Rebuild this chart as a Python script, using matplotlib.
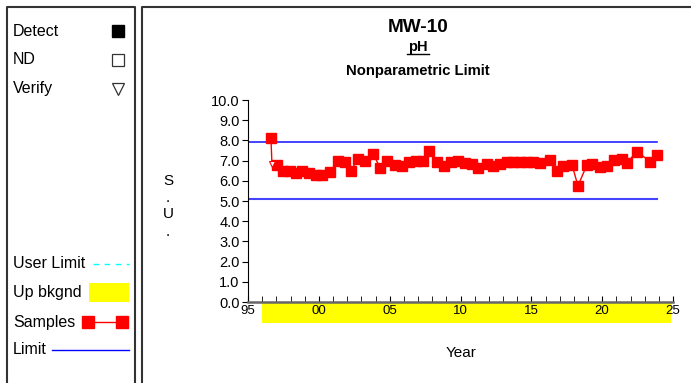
import matplotlib.pyplot as plt
from matplotlib.patches import Rectangle
import matplotlib.transforms as mtransforms

plt.rcParams['font.family'] = ['Liberation Sans', 'DejaVu Sans']

# ------------------------------------------
# DATOS
# ------------------------------------------
years = [1996.62, 1997.05, 1997.47, 1997.96, 1998.39, 1998.81, 1999.31, 1999.80,
         2000.22, 2000.79, 2001.35, 2001.85, 2002.27, 2002.76, 2003.26, 2003.82,
         2004.32, 2004.81, 2005.38, 2005.87, 2006.36, 2006.86, 2007.35, 2007.78,
         2008.34, 2008.84, 2009.33, 2009.82, 2010.32, 2010.81, 2011.24, 2011.87,
         2012.29, 2012.79, 2013.28, 2013.71, 2014.20, 2014.69, 2015.12, 2015.61,
         2016.32, 2016.81, 2017.24, 2017.87, 2018.29, 2018.93, 2019.28, 2019.85,
         2020.34, 2020.84, 2021.40, 2021.75, 2022.46, 2023.38, 2023.87]
ph = [8.1, 6.8, 6.5, 6.5, 6.4, 6.5, 6.4, 6.3,
      6.3, 6.45, 7.0, 6.95, 6.5, 7.1, 7.0, 7.35,
      6.65, 7.0, 6.8, 6.75, 6.95, 7.0, 7.0, 7.5,
      6.95, 6.75, 6.95, 7.0, 6.9, 6.85, 6.65, 6.85,
      6.75, 6.85, 6.95, 6.95, 6.95, 6.95, 6.95, 6.9,
      7.05, 6.5, 6.75, 6.8, 5.75, 6.8, 6.85, 6.7,
      6.75, 7.05, 7.1, 6.9, 7.45, 6.95, 7.3]

verify_year = [1996.69]
verify_ph = [6.85]

upper_limit = 7.9
lower_limit = 5.1
bkgnd_start = 1996.0
bkgnd_end = 2024.85

x_ticks = [1995, 2000, 2005, 2010, 2015, 2020, 2025]
x_labels = ['95', '00', '05', '10', '15', '20', '25']
y_ticks = [0, 1, 2, 3, 4, 5, 6, 7, 8, 9, 10]

W, H = 691, 383
fig = plt.figure(figsize=(W / 100, H / 100), dpi=100)

# ------------------------------------------
# PANELES Y LEYENDA (coordenadas en pixeles)
# ------------------------------------------
bg = fig.add_axes([0, 0, 1, 1])
bg.set_xlim(0, W)
bg.set_ylim(H, 0)
bg.axis('off')

border = '#333333'
bg.plot([7, 7, 135, 135], [H + 5, 7, 7, H + 5], color=border, lw=1.5)
bg.plot([142, 142, W + 5], [H + 5, 7, 7], color=border, lw=1.5)

fs = 11.5
bg.text(13, 31, 'Detect', fontsize=fs, va='center')
bg.plot(118, 31, marker='s', ms=8.5, color='black', mec='black')
bg.text(13, 60, 'ND', fontsize=fs, va='center')
bg.plot(118, 60, marker='s', ms=8.5, mfc='white', mec='#333333', mew=0.9)
bg.text(13, 89, 'Verify', fontsize=fs, va='center')
bg.plot(118, 89, marker='v', ms=9, mfc='white', mec='#333333', mew=0.9)

bg.text(13, 264, 'User Limit', fontsize=fs, va='center')
bg.plot([93, 129], [264, 264], color='cyan', lw=1, ls=(0, (4, 4)))
bg.text(13, 293, 'Up bkgnd', fontsize=fs, va='center')
bg.add_patch(Rectangle((89, 283), 40, 19, color='yellow', lw=0))
bg.text(13, 322, 'Samples', fontsize=fs, va='center')
bg.plot([88, 122], [322, 322], color='red', lw=1, marker='s', ms=9, mec='red')
bg.text(13, 350, 'Limit', fontsize=fs, va='center')
bg.plot([52, 129], [350, 350], color='blue', lw=1)

# titulos
bg.text(418, 27, 'MW-10', fontsize=13.7, fontweight='bold', ha='center', va='center')
bg.text(418, 47, 'pH', fontsize=10.5, fontweight='bold', ha='center', va='center')
bg.plot([407, 429], [54, 54], color='black', lw=1)
bg.text(418, 71, 'Nonparametric Limit', fontsize=10.7, fontweight='bold',
        ha='center', va='center')
bg.text(461, 353, 'Year', fontsize=11, ha='center', va='center')
for yy, ch in zip([181, 198, 214, 232], ['S', '.', 'U', '.']):
    bg.text(168, yy, ch, fontsize=11, ha='center', va='center')

# ------------------------------------------
# GRAFICO PRINCIPAL
# ------------------------------------------
ax = fig.add_axes([248 / W, 1 - 302 / H, (673 - 248) / W, (302 - 100) / H])
ax.set_xlim(1995, 2025)
ax.set_ylim(0, 10)
ax.patch.set_alpha(0)

ax.spines['top'].set_visible(False)
ax.spines['right'].set_visible(False)
ax.spines['left'].set_color('black')
ax.spines['bottom'].set_color('#666666')
ax.spines['bottom'].set_linewidth(1.8)

# banda de fondo (debajo del eje)
trans = mtransforms.blended_transform_factory(ax.transData, ax.transAxes)
ax.add_patch(Rectangle((bkgnd_start, -0.105), bkgnd_end - bkgnd_start, 0.1,
                       transform=trans, color='yellow', lw=0, clip_on=False, zorder=0))

# limites
ax.plot([1995, years[-1]], [upper_limit, upper_limit], color='#2222ff', lw=1.2)
ax.plot([1995, years[-1]], [lower_limit, lower_limit], color='#4444ff', lw=1.5)

# muestras
line_x = [years[0]] + verify_year + years[1:]
line_y = [ph[0]] + verify_ph + ph[1:]
ax.plot(line_x, line_y, color='red', lw=1, zorder=3)
ax.plot(years, ph, ls='none', marker='s', ms=7.5, color='red', mec='red', zorder=4)
ax.plot(verify_year, verify_ph, ls='none', marker='v', ms=5, mfc='white',
        mec='red', mew=0.8, zorder=4)

ax.set_yticks(y_ticks)
ax.set_yticklabels([f'{v:.1f}' for v in y_ticks], fontsize=10.5)
ax.tick_params(axis='y', direction='out', length=4, pad=2)

ax.set_xticks(x_ticks)
ax.set_xticklabels(x_labels, fontsize=9.5)
ax.set_xticks(range(1996, 2025), minor=True)
ax.tick_params(axis='x', which='both', direction='in', length=4, pad=2,
               color='black')

fig.savefig('out.png', dpi=100)
